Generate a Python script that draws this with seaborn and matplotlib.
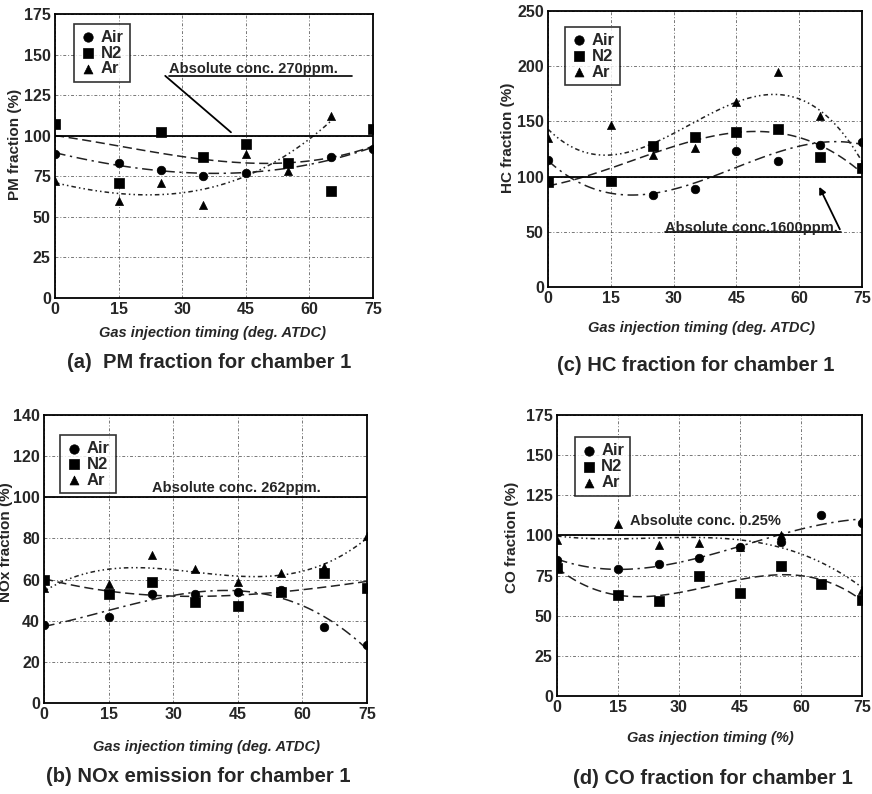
import matplotlib
matplotlib.use("Agg")
import matplotlib.pyplot as plt
import seaborn as sns
import pandas as pd

# ---------------- data ----------------
x_ticks = [0, 15, 30, 45, 60, 75]
series_names = ["Air", "N2", "Ar"]

# (a) PM fraction
pm_air_x = [0, 15, 25, 35, 45, 65, 75]
pm_air_y = [89, 83, 79, 75, 77, 87, 92]
pm_n2_x = [0, 15, 25, 35, 45, 55, 65, 75]
pm_n2_y = [107, 71, 102, 87, 95, 83, 66, 104]
pm_ar_x = [0, 15, 25, 35, 45, 55, 65]
pm_ar_y = [72, 60, 71, 57, 89, 78, 112]

# (c) HC fraction
hc_air_x = [0, 25, 35, 45, 55, 65, 75]
hc_air_y = [115, 83, 89, 123, 114, 129, 131]
hc_n2_x = [0, 15, 25, 35, 45, 55, 65, 75]
hc_n2_y = [95, 96, 128, 136, 140, 143, 118, 108]
hc_ar_x = [0, 15, 25, 35, 45, 55, 65, 75]
hc_ar_y = [135, 147, 120, 126, 168, 195, 155, 111]

# (b) NOx fraction
nox_air_x = [0, 15, 25, 35, 45, 55, 65, 75]
nox_air_y = [38, 42, 53, 53, 54, 55, 37, 28]
nox_n2_x = [0, 15, 25, 35, 45, 55, 65, 75]
nox_n2_y = [60, 53, 59, 49, 47, 54, 63, 56]
nox_ar_x = [0, 15, 25, 35, 45, 55, 65, 75]
nox_ar_y = [56, 58, 72, 65, 59, 63, 66, 81]

# (d) CO fraction
co_air_x = [0, 15, 25, 35, 45, 55, 65, 75]
co_air_y = [85, 79, 82, 86, 93, 96, 113, 108]
co_n2_x = [0, 15, 25, 35, 45, 55, 65, 75]
co_n2_y = [80, 63, 59, 75, 64, 81, 70, 60]
co_ar_x = [0, 15, 25, 35, 45, 55, 75]
co_ar_y = [97, 107, 94, 95, 93, 100, 66]

# ---------------- style ----------------
sns.set_theme(style="white")
plt.rcParams["font.family"] = ["Liberation Sans", "DejaVu Sans"]
plt.rcParams["font.weight"] = "bold"

W, H = 872, 794
fig = plt.figure(figsize=(W / 100, H / 100), dpi=100)


def px_axes(left, right, top, bottom):
    return fig.add_axes([left / W, 1 - bottom / H, (right - left) / W, (bottom - top) / H])


markers = {"Air": "o", "N2": "s", "Ar": "^"}
msize = {"Air": 38, "N2": 48, "Ar": 34}
lstyles = {"Air": (0, (7, 3, 1.5, 3)), "N2": (0, (6, 3)), "Ar": (0, (3, 2, 1, 2, 1, 2))}


def panel(ax, data, ymax, ystep, ylabel, xlabel, title, title_xy, xlabel_xy,
          leg_anchor, ylab_xy):
    for name, (xs, ys) in zip(series_names, data):
        df = pd.DataFrame({"t": xs, "v": ys})
        sns.scatterplot(data=df, x="t", y="v", marker=markers[name], s=msize[name],
                        color="black", edgecolor="black", linewidth=0.5, ax=ax,
                        label=name, zorder=4)
        sns.regplot(data=df, x="t", y="v", order=3, ci=None, scatter=False,
                    truncate=True, ax=ax, color="#222222",
                    line_kws=dict(linestyle=lstyles[name], linewidth=1.1), label=None)
    ax.axhline(100, color="black", linewidth=1.3, zorder=3)
    ax.set_xlim(0, 75)
    ax.set_ylim(0, ymax)
    ax.set_xticks(x_ticks)
    ax.set_yticks(list(range(0, ymax + 1, ystep)))
    ax.tick_params(length=0, labelsize=11.5, pad=3)
    for lab in ax.get_xticklabels() + ax.get_yticklabels():
        lab.set_fontweight("bold")
    ax.grid(True, color="#555555", linestyle=(0, (3, 2, 1, 2)), linewidth=0.7, alpha=0.8)
    for sp in ax.spines.values():
        sp.set_color("black")
        sp.set_linewidth(1.3)
    ax.set_ylabel(ylabel, fontsize=11, fontweight="bold")
    ax.yaxis.label.set_va("center")
    ax.yaxis.set_label_coords(ylab_xy[0], ylab_xy[1])
    ax.set_xlabel("")
    handles, labels = ax.get_legend_handles_labels()
    keep = [(h, l) for h, l in zip(handles, labels) if l in series_names]
    leg = ax.legend([h for h, _ in keep], [l for _, l in keep], loc="upper left",
                    bbox_to_anchor=leg_anchor, frameon=True, fancybox=False,
                    edgecolor="black", fontsize=12, handletextpad=0.25,
                    labelspacing=0.05, borderpad=0.35, handlelength=1.0,
                    borderaxespad=0, markerscale=1.1)
    leg.get_frame().set_linewidth(1.2)
    fig.text(xlabel_xy[0] / W, 1 - xlabel_xy[1] / H, xlabel, ha="center", va="center",
             fontsize=10.5, fontweight="bold", fontstyle="italic")
    fig.text(title_xy[0] / W, 1 - title_xy[1] / H, title, ha="center", va="center",
             fontsize=14.5, fontweight="bold")


# (a)
axa = px_axes(55, 373, 14, 298)
panel(axa, [(pm_air_x, pm_air_y), (pm_n2_x, pm_n2_y), (pm_ar_x, pm_ar_y)],
      175, 25, "PM fraction (%)", "Gas injection timing (deg. ATDC)",
      "(a)  PM fraction for chamber 1", (209, 362), (212, 333), (0.06, 0.965),
      (-0.126, 0.54))
axa.annotate("", xy=(42, 101), xytext=(25.5, 138),
             arrowprops=dict(arrowstyle="-", color="black", lw=1.3))
axa.text(27, 141, "Absolute conc. 270ppm.", fontsize=10.5, va="center", ha="left")
axa.plot([27, 70], [136.5, 136.5], color="black", lw=1.2)

# (c)
axc = px_axes(548, 862, 11, 287)
panel(axc, [(hc_air_x, hc_air_y), (hc_n2_x, hc_n2_y), (hc_ar_x, hc_ar_y)],
      250, 50, "HC fraction (%)", "Gas injection timing (deg. ATDC)",
      "(c) HC fraction for chamber 1", (696, 365), (701, 328), (0.054, 0.942),
      (-0.127, 0.54))
axc.annotate("", xy=(64.5, 93), xytext=(70, 50),
             arrowprops=dict(arrowstyle="-|>", color="black", lw=1.3, mutation_scale=10))
axc.text(28, 53.5, "Absolute conc.1600ppm.", fontsize=10.5, va="center", ha="left")
axc.plot([28, 70], [49.5, 49.5], color="black", lw=1.2)

# (b)
axb = px_axes(44, 367, 415, 703)
panel(axb, [(nox_air_x, nox_air_y), (nox_n2_x, nox_n2_y), (nox_ar_x, nox_ar_y)],
      140, 20, "NOx fraction (%)", "Gas injection timing (deg. ATDC)",
      "(b) NOx emission for chamber 1", (198, 777), (206, 747), (0.05, 0.93),
      (-0.118, 0.56))
axb.text(25, 104.5, "Absolute conc. 262ppm.", fontsize=10.5, va="center", ha="left")

# (d)
axd = px_axes(557, 862, 415, 696)
panel(axd, [(co_air_x, co_air_y), (co_n2_x, co_n2_y), (co_ar_x, co_ar_y)],
      175, 25, "CO fraction (%)", "Gas injection timing (%)",
      "(d) CO fraction for chamber 1", (713, 778), (710, 738), (0.058, 0.92),
      (-0.147, 0.566))
axd.text(18, 109, "Absolute conc. 0.25%", fontsize=10.5, va="center", ha="left")

fig.savefig("out.png", dpi=100)
